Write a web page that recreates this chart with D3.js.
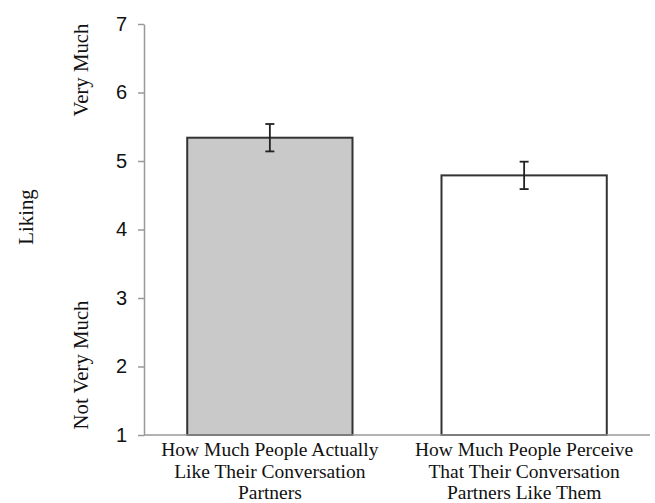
<!DOCTYPE html>
<html><head><meta charset="utf-8">
<script src="https://cdn.jsdelivr.net/npm/d3@7"></script>
<style>body{margin:0;background:#fff}svg{display:block}</style>
</head><body>
<script>
const categories = [
  ["How Much People Actually", "Like Their Conversation", "Partners"],
  ["How Much People Perceive", "That Their Conversation", "Partners Like Them"]
];
const values = [5.34, 4.79];
const errors = [0.2, 0.2];
const fills = ["#c9c9c9", "#ffffff"];
const yTicks = [1, 2, 3, 4, 5, 6, 7];

const W = 655, H = 503;
const svg = d3.select("body").append("svg").attr("width", W).attr("height", H);

const x = d3.scaleBand().domain([0, 1]).range([144, 650]).paddingInner(0.35).paddingOuter(0.17);
const y = d3.scaleLinear().domain([1, 7]).range([435, 24]);

// bars
svg.selectAll("rect.bar").data(values).join("rect")
  .attr("class", "bar")
  .attr("x", (d, i) => x(i))
  .attr("y", d => y(d))
  .attr("width", x.bandwidth())
  .attr("height", d => y(1) - y(d))
  .attr("fill", (d, i) => fills[i])
  .attr("stroke", "#333")
  .attr("stroke-width", 2);

// error bars
const eb = svg.selectAll("g.err").data(values).join("g").attr("class", "err")
  .attr("stroke", "#222").attr("stroke-width", 1.8);
eb.append("line")
  .attr("x1", (d, i) => x(i) + x.bandwidth() / 2)
  .attr("x2", (d, i) => x(i) + x.bandwidth() / 2)
  .attr("y1", (d, i) => y(d + errors[i]))
  .attr("y2", (d, i) => y(d - errors[i]));
eb.append("line")
  .attr("x1", (d, i) => x(i) + x.bandwidth() / 2 - 4.5)
  .attr("x2", (d, i) => x(i) + x.bandwidth() / 2 + 4.5)
  .attr("y1", (d, i) => y(d + errors[i]))
  .attr("y2", (d, i) => y(d + errors[i]));
eb.append("line")
  .attr("x1", (d, i) => x(i) + x.bandwidth() / 2 - 4.5)
  .attr("x2", (d, i) => x(i) + x.bandwidth() / 2 + 4.5)
  .attr("y1", (d, i) => y(d - errors[i]))
  .attr("y2", (d, i) => y(d - errors[i]));

// y axis
const yAxis = svg.append("g").attr("transform", "translate(144,0)")
  .call(d3.axisLeft(y).tickValues(yTicks).tickFormat(d3.format("d")).tickSize(6).tickSizeOuter(0).tickPadding(11));
yAxis.select(".domain").attr("stroke", "#999").attr("stroke-width", 1.5);
yAxis.selectAll(".tick line").attr("stroke", "#999").attr("stroke-width", 1.5);
yAxis.selectAll(".tick text").attr("font-family", "Liberation Sans, Arial, sans-serif")
  .attr("font-size", 20).attr("fill", "#111");

// x axis line
svg.append("line").attr("x1", 144).attr("x2", 650).attr("y1", y(1)).attr("y2", y(1))
  .attr("stroke", "#999").attr("stroke-width", 1.5);

// category labels
const cl = svg.selectAll("text.cat").data(categories).join("text").attr("class", "cat")
  .attr("font-family", "Liberation Serif, Times New Roman, serif")
  .attr("font-size", 19.5).attr("fill", "#111").attr("text-anchor", "middle");
cl.selectAll("tspan").data((d, i) => d.map(t => ({t, i}))).join("tspan")
  .attr("x", d => x(d.i) + x.bandwidth() / 2)
  .attr("y", (d, j) => 456 + j * 21.6)
  .text(d => d.t);

// axis annotations
const serif = "Liberation Serif, Times New Roman, serif";
function vtext(cx, cy, t) {
  svg.append("text").attr("transform", `translate(${cx},${cy}) rotate(-90)`)
    .attr("text-anchor", "middle").attr("dominant-baseline", "central")
    .attr("font-family", serif).attr("font-size", 20.8).attr("fill", "#111").text(t);
}
vtext(25, 217, "Liking");
vtext(80, 70, "Very Much");
vtext(80, 365, "Not Very Much");
</script>
</body></html>
